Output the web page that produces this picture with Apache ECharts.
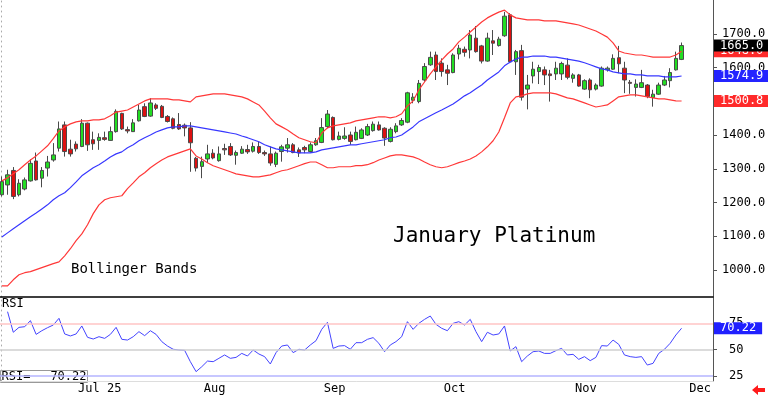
<!DOCTYPE html>
<html>
<head>
<meta charset="utf-8">
<title>January Platinum</title>
<script src="https://cdn.jsdelivr.net/npm/echarts@6/dist/echarts.min.js"></script>
<style>
  html, body { margin: 0; padding: 0; background: #fff; }
  #chart { width: 768px; height: 397px; }
</style>
</head>
<body>
<div id="chart"></div>
<script>
// daily candles: [open, close, low, high]
const candles = [
  [1223,1262,1218,1277],[1252,1282,1223,1297],[1295,1218,1210,1305],[1223,1257,1218,1269],[1240,1267,1236,1274],
  [1264,1316,1262,1328],[1323,1267,1265,1348],[1272,1295,1245,1305],[1302,1320,1277,1338],[1326,1341,1321,1376],
  [1361,1418,1351,1440],[1430,1351,1336,1440],[1358,1344,1336,1386],[1373,1359,1351,1381],[1366,1435,1364,1447],
  [1435,1371,1353,1437],[1386,1374,1356,1410],[1384,1393,1356,1405],[1392,1387,1383,1410],[1384,1410,1383,1425],
  [1410,1470,1407,1476],[1464,1418,1415,1466],[1416,1412,1405,1425],[1410,1436,1409,1447],[1442,1474,1440,1489],
  [1484,1455,1453,1494],[1456,1495,1454,1509],[1489,1479,1474,1494],[1485,1452,1450,1489],[1455,1440,1437,1459],
  [1448,1420,1417,1452],[1431,1418,1415,1465],[1429,1421,1396,1434],[1421,1377,1291,1438],[1331,1302,1292,1335],
  [1307,1321,1272,1336],[1329,1344,1317,1371],[1346,1332,1328,1358],[1324,1344,1321,1366],[1360,1356,1341,1374],
  [1366,1341,1338,1376],[1340,1348,1312,1354],[1346,1358,1344,1367],[1357,1350,1344,1371],[1352,1366,1348,1378],
  [1366,1348,1344,1381],[1348,1344,1338,1354],[1344,1317,1309,1366],[1313,1346,1305,1351],[1351,1365,1321,1371],
  [1361,1371,1348,1391],[1371,1348,1346,1376],[1356,1347,1335,1363],[1363,1356,1346,1368],[1351,1371,1348,1378],
  [1371,1383,1368,1391],[1378,1422,1376,1450],[1425,1462,1420,1474],[1452,1386,1384,1455],[1387,1397,1384,1410],
  [1390,1397,1386,1423],[1400,1381,1371,1410],[1386,1408,1384,1425],[1390,1415,1388,1420],[1400,1425,1397,1433],
  [1413,1432,1410,1440],[1430,1415,1413,1440],[1420,1391,1368,1423],[1381,1417,1378,1423],[1410,1427,1405,1435],
  [1430,1443,1427,1450],[1438,1525,1435,1528],[1503,1512,1494,1524],[1499,1553,1494,1563],[1563,1603,1558,1613],
  [1608,1630,1605,1647],[1637,1588,1563,1647],[1613,1588,1573,1627],[1593,1583,1548,1608],[1585,1637,1583,1642],
  [1640,1657,1624,1667],[1654,1645,1632,1662],[1652,1696,1627,1711],[1687,1647,1644,1723],[1664,1619,1612,1667],
  [1619,1687,1617,1703],[1679,1672,1637,1711],[1665,1684,1662,1691],[1694,1752,1691,1765],[1756,1617,1613,1761],
  [1617,1647,1578,1652],[1650,1512,1502,1667],[1536,1548,1476,1578],[1575,1595,1553,1617],[1588,1600,1551,1608],
  [1593,1578,1548,1603],[1581,1576,1499,1593],[1581,1598,1563,1617],[1581,1612,1563,1617],[1607,1571,1565,1627],
  [1568,1578,1555,1583],[1578,1545,1543,1581],[1536,1561,1534,1565],[1563,1534,1509,1568],[1536,1548,1532,1553],
  [1545,1598,1543,1603],[1593,1598,1588,1603],[1595,1627,1593,1639],[1629,1611,1583,1664],[1598,1563,1524,1617],
  [1556,1553,1522,1563],[1541,1551,1514,1565],[1541,1555,1539,1593],[1548,1514,1509,1551],[1511,1521,1484,1534],
  [1521,1548,1519,1555],[1548,1563,1545,1575],[1561,1585,1541,1598],[1593,1627,1591,1647],[1624,1665,1622,1674]
];

const upperBand = [
  1264,1273,1285,1297,1312,1326,1338,1353,1368,1389,
  1412,1424,1433,1439,1442,1442,1445,1445,1448,1457,
  1468,1471,1474,1483,1492,1501,1507,1507,1507,1507,
  1504,1504,1501,1498,1513,1516,1519,1522,1522,1522,
  1519,1516,1513,1507,1498,1489,1471,1451,1433,1424,
  1415,1403,1392,1386,1380,1377,1406,1421,1427,1430,
  1433,1436,1442,1445,1448,1451,1454,1454,1451,1454,
  1463,1486,1501,1534,1557,1581,1602,1622,1640,1655,
  1676,1690,1705,1720,1735,1747,1756,1764,1770,1756,
  1747,1744,1741,1741,1741,1738,1738,1738,1735,1732,
  1729,1726,1720,1714,1708,1699,1690,1673,1649,1643,
  1640,1637,1637,1634,1631,1631,1631,1631,1637,1648
];

const midBand = [
  1098,1110,1122,1134,1146,1158,1169,1181,1193,1208,
  1220,1229,1244,1261,1279,1291,1303,1312,1323,1335,
  1344,1350,1362,1371,1383,1392,1400,1409,1415,1421,
  1424,1424,1427,1427,1424,1421,1418,1415,1412,1409,
  1406,1403,1397,1392,1386,1380,1371,1365,1359,1356,
  1353,1350,1347,1347,1347,1350,1356,1359,1362,1365,
  1368,1371,1371,1374,1377,1380,1383,1386,1392,1394,
  1400,1412,1424,1439,1448,1457,1466,1474,1483,1492,
  1504,1516,1525,1537,1548,1563,1575,1587,1605,1616,
  1625,1631,1631,1634,1634,1634,1631,1631,1628,1625,
  1622,1619,1614,1608,1602,1596,1593,1587,1584,1581,
  1581,1578,1578,1575,1575,1575,1572,1572,1572,1574.9
];

const lowerBand = [
  953,953,971,986,992,995,1001,1007,1013,1019,
  1024,1042,1063,1087,1107,1134,1167,1193,1208,1214,
  1217,1220,1241,1258,1276,1288,1303,1315,1326,1335,
  1341,1347,1353,1359,1338,1329,1318,1309,1303,1297,
  1291,1285,1282,1279,1276,1276,1279,1282,1288,1294,
  1297,1303,1309,1315,1320,1320,1312,1303,1303,1306,
  1306,1306,1309,1309,1312,1318,1326,1332,1338,1341,
  1341,1338,1335,1329,1320,1312,1306,1303,1306,1312,
  1318,1323,1329,1338,1350,1365,1383,1409,1451,1495,
  1513,1516,1522,1525,1525,1525,1525,1522,1516,1510,
  1507,1501,1495,1489,1483,1486,1489,1501,1513,1516,
  1519,1519,1516,1513,1510,1507,1507,1504,1501,1500.8
];

const rsi = [
  null,86.0,66.4,71.1,71.7,77.5,64.4,67.9,70.8,73.3,
  79.7,64.8,62.9,64.8,72.4,61.6,60.0,62.2,60.6,64.4,
  71.1,59.7,59.0,62.2,67.0,63.2,67.9,64.4,57.5,53.3,
  50.2,49.5,49.2,38.4,28.9,33.6,39.0,38.4,41.6,44.8,
  41.6,42.5,46.3,43.8,49.5,45.7,43.2,36.2,47.0,53.3,
  54.3,47.0,50.2,49.5,54.3,58.4,69.2,75.9,51.1,53.3,
  53.7,50.2,56.5,56.5,59.7,61.3,55.9,47.9,54.3,57.5,
  62.2,76.5,69.2,74.9,78.7,81.9,74.0,70.2,67.9,74.9,
  76.5,73.3,78.7,67.0,57.5,66.4,63.8,64.8,72.4,48.6,
  52.7,38.4,43.8,47.9,48.6,46.3,46.3,48.9,51.1,44.8,
  45.4,40.6,43.2,39.4,42.5,53.7,53.3,59.0,54.9,44.8,
  43.2,42.5,43.2,35.2,36.8,46.3,50.2,55.9,63.8,70.22
];

// first trading day of each month (slot index) and its label
const monthTicks = [13, 35, 56, 77, 100, 120];
const monthNames = ['Jul 25', 'Aug', 'Sep', 'Oct', 'Nov', 'Dec'];
const priceTicks = [1000, 1100, 1200, 1300, 1400, 1500, 1600, 1700];
const rsiTicks = [25, 50, 75];
const slotCount = 125;

const days = [];
for (let i = 0; i < slotCount; i++) days.push(String(i));

const FONT = 'DejaVu Sans Mono';
const last = candles.length - 1;
const isMonth = (i) => monthTicks.indexOf(i) >= 0;

// last-value tag on the right axis (invisible line, boxed label)
function valueBox(value, bg, digits) {
  return {
    yAxis: value,
    lineStyle: { color: 'rgba(0,0,0,0)', width: 1 },
    label: {
      show: true,
      position: 'end',
      distance: 1,
      formatter: value.toFixed(digits),
      color: '#fff',
      backgroundColor: bg,
      fontFamily: FONT,
      fontSize: 12,
      lineHeight: 12,
      padding: [0, 6, 0, 6]
    }
  };
}

const chart = echarts.init(document.getElementById('chart'));
const option = {
  animation: false,
  backgroundColor: '#fff',
  grid: [
    { left: -1, right: 55, top: 0, height: 297, outerBoundsMode: 'none' },
    { left: -1, right: 55, top: 297, height: 84, outerBoundsMode: 'none' }
  ],
  xAxis: [
    {
      type: 'category', gridIndex: 0, data: days,
      axisLine: { lineStyle: { color: '#000', width: 1.5 } },
      axisTick: { show: false }, axisLabel: { show: false }
    },
    {
      type: 'category', gridIndex: 1, data: days,
      axisLine: { lineStyle: { color: '#ddd' } },
      axisTick: {
        alignWithLabel: true, length: 16,
        interval: (i) => isMonth(i),
        lineStyle: { color: '#777' }
      },
      axisLabel: {
        interval: (i) => isMonth(i),
        formatter: (v) => monthNames[monthTicks.indexOf(Number(v))],
        align: 'left', margin: 2, padding: [0, 0, 0, 2],
        color: '#000', fontFamily: FONT, fontSize: 12
      }
    }
  ],
  yAxis: [
    {
      type: 'value', gridIndex: 0, position: 'right', min: 920, max: 1800,
      splitLine: { show: false },
      axisLine: { show: true, lineStyle: { color: '#555' } },
      axisTick: { show: true, customValues: priceTicks, length: 4, lineStyle: { color: '#555' } },
      axisLabel: {
        customValues: priceTicks, formatter: (v) => v.toFixed(1), margin: 9,
        color: '#000', fontFamily: FONT, fontSize: 12
      }
    },
    {
      type: 'value', gridIndex: 1, position: 'right', min: 20, max: 100,
      splitLine: { show: false },
      axisLine: { show: true, lineStyle: { color: '#555' } },
      axisTick: { show: true, customValues: rsiTicks, length: 4, lineStyle: { color: '#555' } },
      axisLabel: {
        customValues: rsiTicks, margin: 16,
        color: '#000', fontFamily: FONT, fontSize: 12
      }
    },
    {
      type: 'value', gridIndex: 0, position: 'left', offset: -2,
      axisLine: { show: true, lineStyle: { color: '#aaa', type: [1, 4] } },
      axisTick: { show: false }, axisLabel: { show: false }, splitLine: { show: false }
    },
    {
      type: 'value', gridIndex: 1, position: 'left', offset: -2,
      axisLine: { show: true, lineStyle: { color: '#aaa', type: [1, 4] } },
      axisTick: { show: false }, axisLabel: { show: false }, splitLine: { show: false }
    }
  ],
  series: [
    {
      name: 'January Platinum', type: 'candlestick',
      xAxisIndex: 0, yAxisIndex: 0, z: 2,
      barWidth: 4,
      itemStyle: {
        color: '#22dd22', color0: '#dd1111',
        borderColor: '#4a4a4a', borderColor0: '#4a4a4a', borderWidth: 1
      },
      data: candles
    },
    {
      name: 'Lower', type: 'line', xAxisIndex: 0, yAxisIndex: 0, z: 3,
      symbol: 'none', lineStyle: { color: '#ff3838', width: 1.2 },
      data: lowerBand,
      markLine: { silent: true, symbol: ['none', 'none'], data: [valueBox(lowerBand[last], '#ff2a2a', 1)] }
    },
    {
      name: 'Middle', type: 'line', xAxisIndex: 0, yAxisIndex: 0, z: 3,
      symbol: 'none', lineStyle: { color: '#3838ff', width: 1.2 },
      data: midBand,
      markLine: { silent: true, symbol: ['none', 'none'], data: [valueBox(midBand[last], '#2424ff', 1)] }
    },
    {
      name: 'Upper', type: 'line', xAxisIndex: 0, yAxisIndex: 0, z: 3,
      symbol: 'none', lineStyle: { color: '#ff3838', width: 1.2 },
      data: upperBand,
      markLine: {
        silent: true, symbol: ['none', 'none'],
        data: [valueBox(upperBand[last], '#ff2a2a', 1), valueBox(candles[last][1], '#000', 1)]
      }
    },
    {
      name: 'RSI', type: 'line', xAxisIndex: 1, yAxisIndex: 1, z: 3,
      symbol: 'none', lineStyle: { color: '#4444ff', width: 1 },
      data: rsi,
      markLine: {
        silent: true, symbol: ['none', 'none'], label: { show: false },
        data: [
          { yAxis: 75, lineStyle: { color: '#ffc4c4', width: 1.5, type: 'solid' } },
          { yAxis: 50, lineStyle: { color: '#cfcfcf', width: 1.5, type: 'solid' } },
          { yAxis: 25, lineStyle: { color: '#b4b4ff', width: 1.5, type: 'solid' } },
          valueBox(rsi[last], '#2020ff', 2)
        ]
      }
    }
  ],
  graphic: [
    { type: 'text', left: 2, top: 298, style: { text: 'RSI', font: '12px ' + FONT, fill: '#000' } },
    {
      type: 'group', left: 0, top: 370,
      children: [
        { type: 'rect', shape: { x: 0, y: 0, width: 87, height: 12 }, style: { fill: '#fff', stroke: '#999', lineWidth: 1 } },
        { type: 'text', x: 1, y: 0, style: { text: 'RSI=', font: '12px ' + FONT, fill: '#000' } },
        { type: 'text', x: 86, y: 0, style: { text: rsi[last].toFixed(2), font: '12px ' + FONT, fill: '#000', align: 'right' } }
      ]
    },
    { type: 'text', left: 393, top: 226, style: { text: 'January Platinum', font: '21px ' + FONT, fill: '#000' } },
    { type: 'text', left: 71, top: 262, style: { text: 'Bollinger Bands', font: '14px ' + FONT, fill: '#000' } },
    {
      type: 'polygon',
      shape: { points: [[752, 390], [758, 385], [758, 388], [765, 388], [765, 392], [758, 392], [758, 395]] },
      style: { fill: '#ff1a1a' }
    }
  ]
};
chart.setOption(option);
window.addEventListener('resize', () => chart.resize());
</script>
</body>
</html>
